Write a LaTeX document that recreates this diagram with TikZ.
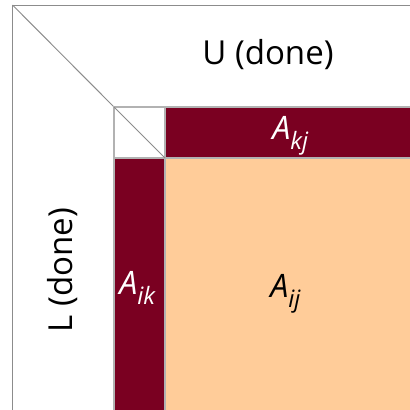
\documentclass[tikz,border=0pt]{standalone}
\usepackage{xcolor}
\usepackage{fontspec}
\setmainfont{Open Sans}

\definecolor{blockred}{HTML}{7A0021}
\definecolor{blockpeach}{HTML}{FFCC99}

% italic block name with its index pair
\newcommand{\blockname}[2]{\textit{#1\raisebox{-7.5pt}{\fontsize{17}{19}\selectfont #2}}}

\begin{document}
\begin{tikzpicture}[
    x=0.025cm, y=-0.025cm,
    frame/.style={draw=gray!90, line width=0.7pt},
    block/.style={draw=gray!60, line width=1pt},
    label/.style={font=\fontsize{23.5}{28}\selectfont},
    blocklabel/.style={inner sep=0pt, anchor=base west, font=\fontsize{23}{27}\selectfont},
    darklabel/.style={blocklabel, text=white}
]
\useasboundingbox (0,0) rectangle (410,410);

% Outer part: finished rows and columns
\draw[frame] (410,5) -- (12.5,5) -- (12.5,410);
\draw[frame] (12.5,5) -- (114,107);

% Blocks of the current step
\filldraw[block, fill=blockred] (165,107) rectangle (412,158);
\filldraw[block, fill=blockred] (114,158) rectangle (165,412);
\filldraw[block, fill=blockpeach] (165,158) rectangle (412,412);
\draw[block] (114,107) rectangle (165,158);
\draw[frame] (114,107) -- (165,158);

% Labels
\node[label] (U) at (268,55) {U (done)};
\node[label, rotate=90] (L) at (63,270) {L (done)};
\node[darklabel] (Akj) at (272,139) {\blockname{A}{kj}};
\node[darklabel] (Aik) at (119,294) {\blockname{A}{ik}};
\node[blocklabel] (Aij) at (270,297) {\blockname{A}{ij}};

\end{tikzpicture}
\end{document}
